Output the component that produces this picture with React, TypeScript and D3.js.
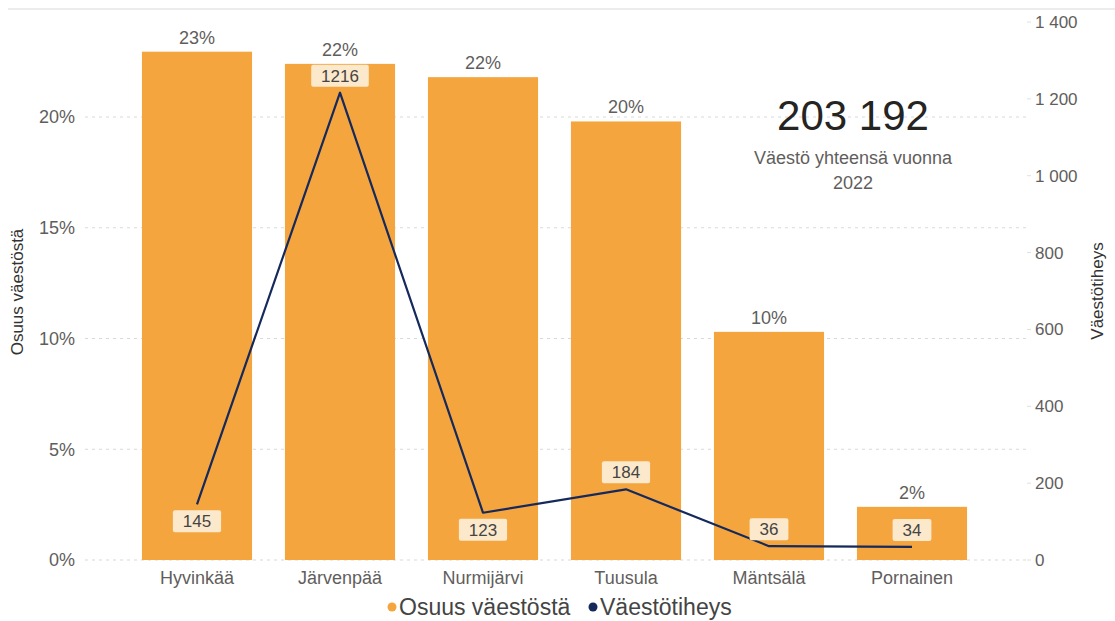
import React from "react";
import * as d3 from "d3";

const categories = ["Hyvinkää", "Järvenpää", "Nurmijärvi", "Tuusula", "Mäntsälä", "Pornainen"];
const shareValues = [0.2295, 0.224, 0.218, 0.198, 0.103, 0.024];
const shareLabels = ["23%", "22%", "22%", "20%", "10%", "2%"];
const densityValues = [145, 1216, 123, 184, 36, 34];
const densityLabelSide = ["below", "above", "below", "above", "above", "above"];
const leftTicks = [0, 0.05, 0.1, 0.15, 0.2];
const rightTicks = [0, 200, 400, 600, 800, 1000, 1200, 1400];
const totalValue = "203 192";
const totalCaption = ["Väestö yhteensä vuonna", "2022"];
const legendItems = ["Osuus väestöstä", "Väestötiheys"];

const W = 1115;
const H = 621;
const FONT = "'Liberation Sans', Arial, sans-serif";
const ORANGE = "#f5a53e";
const NAVY = "#15295c";
const TEXT = "#5f5e5c";

const fmtPct = (v: number) => `${Math.round(v * 100)}%`;
const fmtSpace = (v: number) => d3.format(",")(v).replace(/,/g, " ");

export default function App() {
  const x = d3.scaleBand<string>().domain(categories).range([125.5, 983.5]).paddingInner(0.23).paddingOuter(0.115);
  const yL = d3.scaleLinear().domain([0, 0.2429]).range([560, 22]);
  const yR = d3.scaleLinear().domain([0, 1400]).range([560, 22]);
  const cx = (c: string) => (x(c) as number) + x.bandwidth() / 2;

  const line = d3
    .line<number>()
    .x((_, i) => cx(categories[i]))
    .y((d) => yR(d));

  return (
    <svg width={W} height={H} style={{ position: "absolute", left: 0, top: 0, background: "#fff" }} fontFamily={FONT}>
      <rect x={8} y={8} width={W - 8} height={2} fill="#ececec" />

      {/* gridlines */}
      {leftTicks.map((t) => (
        <line key={t} x1={85} x2={1026} y1={yL(t)} y2={yL(t)} stroke="#d9d9d9" strokeDasharray="3,4" strokeWidth={1} />
      ))}

      {/* left ticks */}
      {leftTicks.map((t) => (
        <text key={t} x={75} y={yL(t)} dy="0.35em" textAnchor="end" fontSize={18} fill={TEXT}>
          {fmtPct(t)}
        </text>
      ))}
      <text transform={`translate(23,292) rotate(-90)`} textAnchor="middle" fontSize={17} fill="#333">
        Osuus väestöstä
      </text>

      {/* right ticks */}
      {rightTicks.map((t) => (
        <g key={t}>
          <line x1={1027} x2={1031} y1={yR(t)} y2={yR(t)} stroke="#e0e0e0" />
          <text x={1035} y={yR(t)} dy="0.35em" textAnchor="start" fontSize={17} fill={TEXT}>
            {fmtSpace(t)}
          </text>
        </g>
      ))}
      <text transform={`translate(1103,291) rotate(-90)`} textAnchor="middle" fontSize={17} fill="#333">
        Väestötiheys
      </text>

      {/* bars */}
      {categories.map((c, i) => (
        <g key={c}>
          <rect x={x(c)} y={yL(shareValues[i])} width={x.bandwidth()} height={yL(0) - yL(shareValues[i])} fill={ORANGE} />
          <text x={cx(c)} y={yL(shareValues[i]) - 8} textAnchor="middle" fontSize={18} fill={TEXT}>
            {shareLabels[i]}
          </text>
          <text x={cx(c)} y={584} textAnchor="middle" fontSize={18} fill={TEXT}>
            {c}
          </text>
        </g>
      ))}

      {/* line */}
      <path d={line(densityValues) || ""} fill="none" stroke={NAVY} strokeWidth={2.2} strokeLinejoin="round" />

      {/* line labels */}
      {densityValues.map((v, i) => {
        const px = cx(categories[i]);
        const py = yR(v) + (densityLabelSide[i] === "above" ? -17 : 17);
        const s = String(v);
        const w = s.length * 9.4 + 20;
        return (
          <g key={i}>
            <rect x={px - w / 2} y={py - 11} width={w} height={22} rx={2} fill="#fce8cb" />
            <text x={px} y={py} dy="0.36em" textAnchor="middle" fontSize={17} fill="#444">
              {s}
            </text>
          </g>
        );
      })}

      {/* KPI */}
      <text x={853} y={130} textAnchor="middle" fontSize={42} fill="#252423">
        {totalValue}
      </text>
      {totalCaption.map((t, i) => (
        <text key={t} x={853} y={164 + i * 25} textAnchor="middle" fontSize={18} fill={TEXT}>
          {t}
        </text>
      ))}

      {/* legend */}
      <circle cx={392} cy={607} r={4.5} fill={ORANGE} />
      <text x={399} y={615} fontSize={23} fill="#444">
        {legendItems[0]}
      </text>
      <circle cx={593} cy={607} r={4.5} fill={NAVY} />
      <text x={600} y={615} fontSize={23} fill="#444">
        {legendItems[1]}
      </text>
    </svg>
  );
}
